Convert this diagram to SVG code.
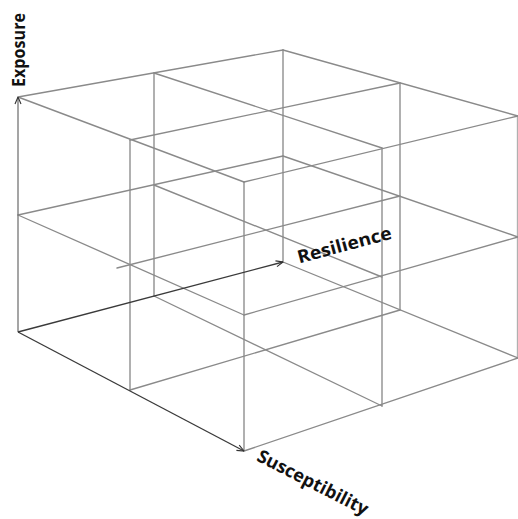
<svg xmlns="http://www.w3.org/2000/svg" width="518" height="519" viewBox="0 0 518 519">
<defs>
<style>
.g{stroke:#8a8a8a;stroke-width:1.35;fill:none;stroke-linecap:round}
.ax{stroke:#3a3a3a;stroke-width:1.35;fill:none}
.axv{stroke:#7a7a7a;stroke-width:1.35;fill:none}
.lbl{font-family:"Open Sans","DejaVu Sans",sans-serif;font-weight:bold;font-size:18px;fill:#111}
</style>
<marker id="arr" viewBox="0 0 8 8" refX="7.5" refY="4" markerWidth="8" markerHeight="8" markerUnits="userSpaceOnUse" orient="auto">
<path d="M0.5,1 L7.5,4 L0.5,7" fill="none" stroke="#333" stroke-width="1.1"/>
</marker>
</defs>
<rect width="518" height="519" fill="#fff"/>
<g id="connectors">
<g id="verticals">
<line class="g" x1="154" y1="73" x2="154" y2="296"/>
<line class="g" x1="283" y1="50" x2="283" y2="262"/>
<line class="g" x1="130" y1="140" x2="130" y2="390"/>
<line class="g" x1="400" y1="83" x2="400" y2="310"/>
<line class="g" x1="244" y1="182" x2="244" y2="451"/>
<line class="g" x1="382" y1="148" x2="382" y2="406"/>
<line class="g" x1="517.5" y1="116" x2="517.5" y2="358" style="stroke:#b0b0b0"/>
</g>
<g id="resilience-lines">
<line class="g" x1="18" y1="97" x2="283" y2="50"/>
<line class="g" x1="130" y1="140" x2="400" y2="83"/>
<line class="g" x1="244" y1="182" x2="518" y2="116"/>
<line class="g" x1="18" y1="215" x2="283" y2="156"/>
<line class="g" x1="117" y1="268" x2="400" y2="196"/>
<line class="g" x1="244" y1="315" x2="518" y2="237"/>
<line class="g" x1="130" y1="390" x2="400" y2="310"/>
<line class="g" x1="244" y1="451" x2="518" y2="358"/>
</g>
<g id="susceptibility-lines">
<line class="g" x1="18" y1="97" x2="244" y2="182"/>
<line class="g" x1="154" y1="73" x2="382" y2="148"/>
<line class="g" x1="283" y1="50" x2="518" y2="116"/>
<line class="g" x1="18" y1="215" x2="244" y2="315"/>
<line class="g" x1="154" y1="185" x2="382" y2="277"/>
<line class="g" x1="283" y1="156" x2="518" y2="237"/>
<line class="g" x1="154" y1="296" x2="382" y2="406"/>
<line class="g" x1="283" y1="262" x2="518" y2="358"/>
</g>
<g id="axes">
<line class="axv" x1="18" y1="332" x2="18" y2="97" marker-end="url(#arr)"/>
<line class="ax" x1="18" y1="332" x2="283" y2="262" marker-end="url(#arr)"/>
<line class="ax" x1="18" y1="332" x2="244" y2="451" marker-end="url(#arr)"/>
</g>
</g>
<g id="label-exposure">
<text class="lbl" transform="translate(25,50) rotate(-90)" text-anchor="middle" textLength="74" lengthAdjust="spacingAndGlyphs">Exposure</text>
</g>
<g id="label-resilience">
<text class="lbl" transform="translate(346,251) rotate(-15)" text-anchor="middle" textLength="97" lengthAdjust="spacingAndGlyphs">Resilience</text>
</g>
<g id="label-susceptibility">
<text class="lbl" transform="translate(310,488) rotate(27)" text-anchor="middle" textLength="122" lengthAdjust="spacingAndGlyphs">Susceptibility</text>
</g>
</svg>
